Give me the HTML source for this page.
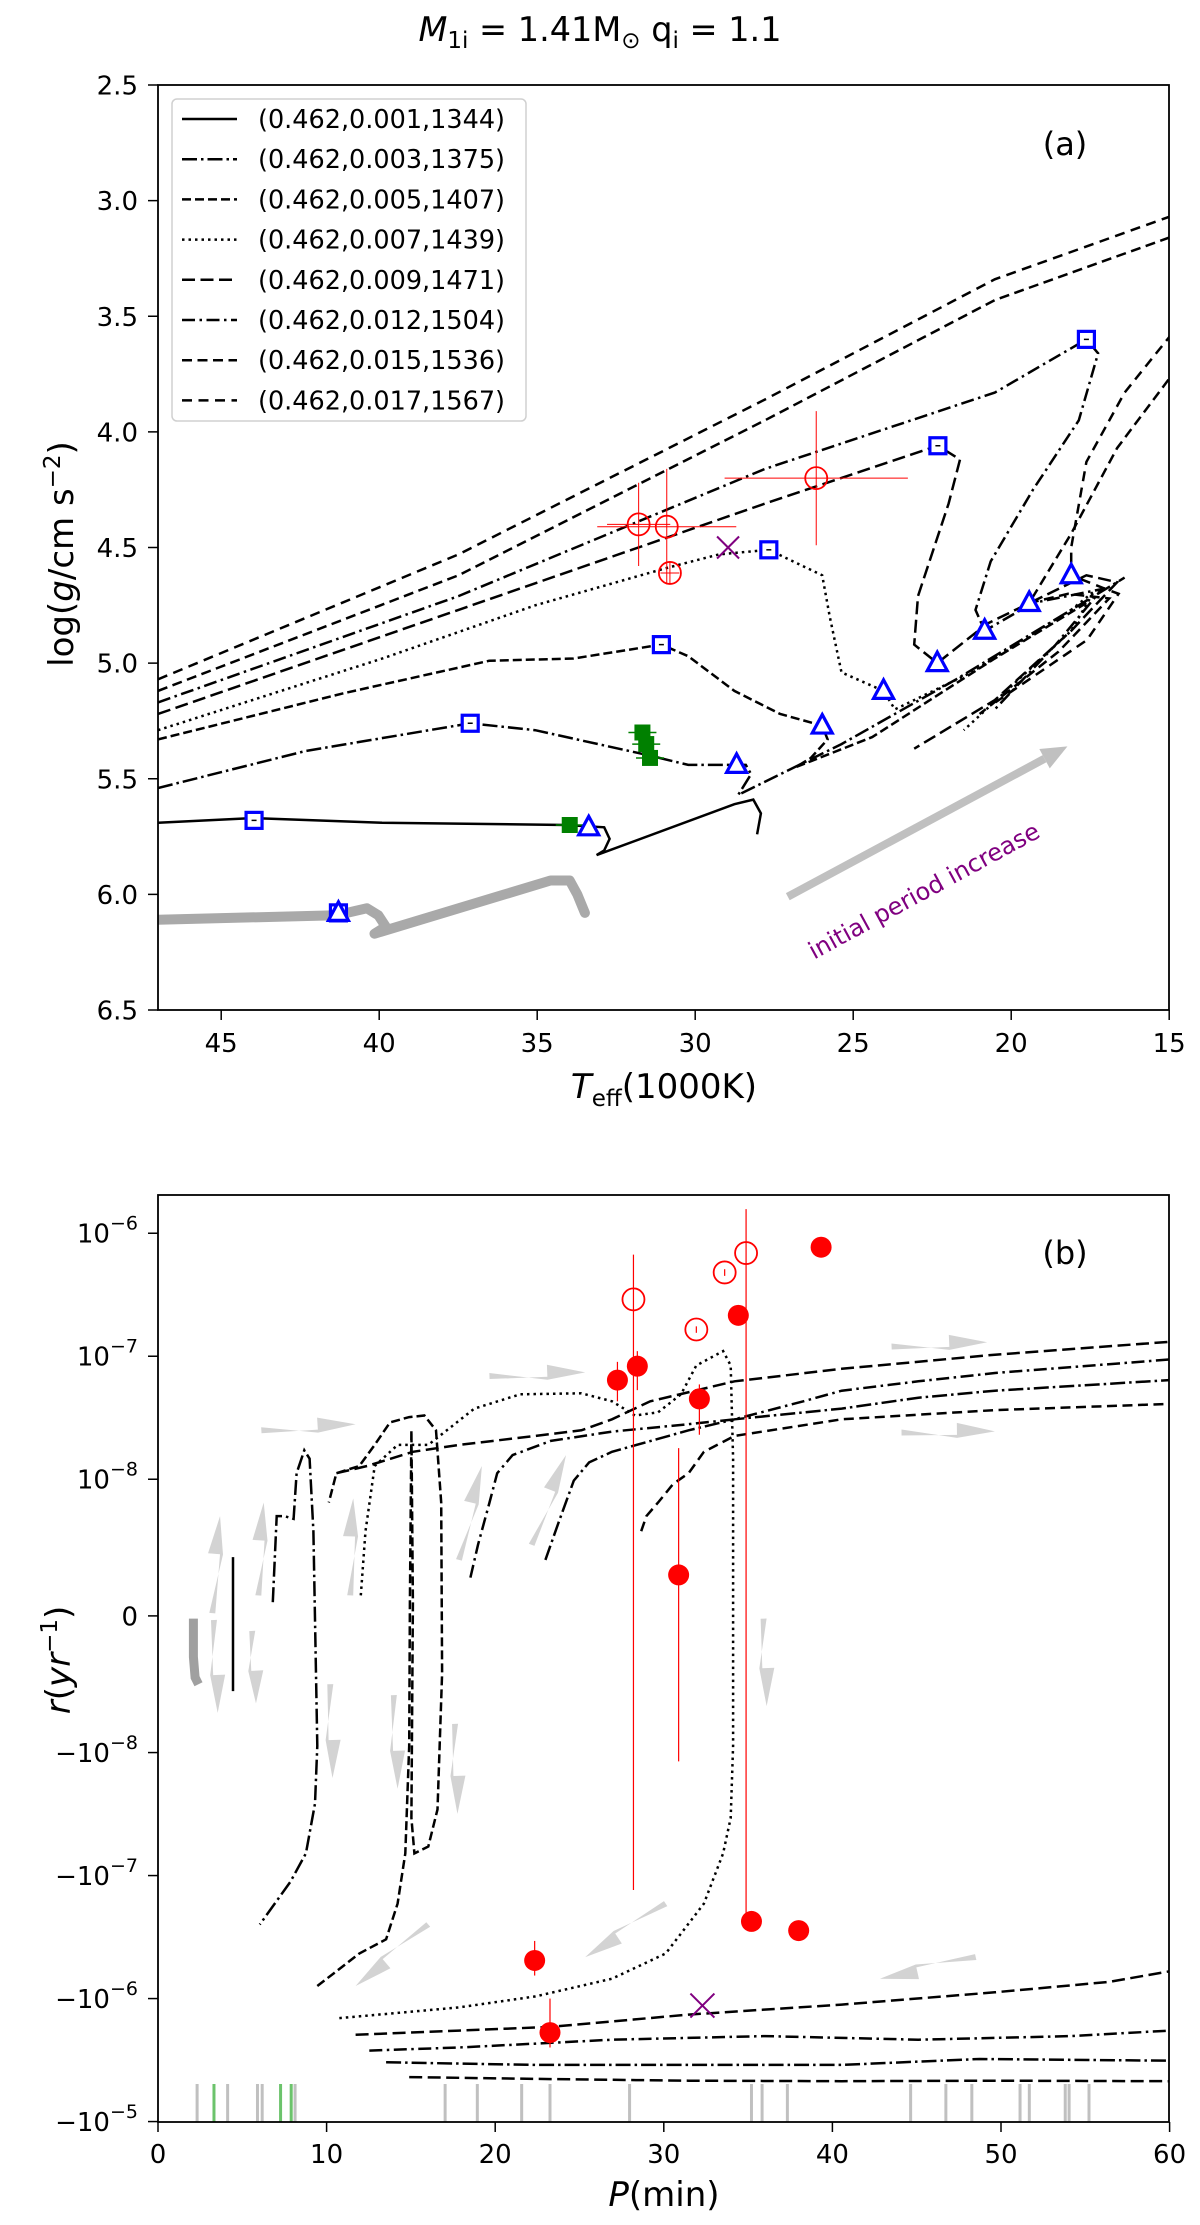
<!DOCTYPE html>
<html><head><meta charset="utf-8"><style>
html,body{margin:0;padding:0;background:#fff}
svg{display:block;font-family:"DejaVu Sans","Liberation Sans",sans-serif}
</style></head><body>
<svg id="fig" width="1200" height="2225" viewBox="0 0 1200 2225" xmlns="http://www.w3.org/2000/svg">
<defs>
<clipPath id="clipA"><rect x="158" y="85" width="1011" height="925"/></clipPath>
<clipPath id="clipB"><rect x="158" y="1195" width="1011" height="927"/></clipPath>
</defs>
<text x="600" y="41" text-anchor="middle" font-size="33.5"><tspan font-style="italic">M</tspan><tspan font-size="23" dy="7">1i</tspan><tspan dy="-7"> = 1.41M</tspan><tspan font-size="23" dy="7">⊙</tspan><tspan dy="-7"> q</tspan><tspan font-size="23" dy="7">i</tspan><tspan dy="-7"> = 1.1</tspan></text>
<g id="panelA"></g>
<g id="panelB"></g>
</svg>
<script>
// ---------- Panel (a) data ----------
const tickA_x = [45, 40, 35, 30, 25, 20, 15];
const tickA_y = [2.5, 3.0, 3.5, 4.0, 4.5, 5.0, 5.5, 6.0, 6.5];
const legendLabels = ["(0.462,0.001,1344)","(0.462,0.003,1375)","(0.462,0.005,1407)","(0.462,0.007,1439)","(0.462,0.009,1471)","(0.462,0.012,1504)","(0.462,0.015,1536)","(0.462,0.017,1567)"];
const grayT = [47, 41.35, 40.39, 40.03, 39.79, 40.15, 34.58, 33.97, 33.73, 33.49];
const grayG = [6.11, 6.09, 6.06, 6.09, 6.14, 6.17, 5.94, 5.94, 6.00, 6.08];
const t001T = [47, 44.03, 39.91, 34.09, 32.88, 32.71, 32.88, 33.12, 28.76, 28.16, 27.92, 28.04];
const t001G = [5.69, 5.67, 5.69, 5.70, 5.71, 5.76, 5.81, 5.83, 5.61, 5.59, 5.65, 5.74];
const t003T = [47, 42.33, 37.12, 35.06, 31.43, 30.22, 28.40, 28.23, 28.64, 25.37, 21.74, 16.41];
const t003G = [5.54, 5.38, 5.26, 5.29, 5.40, 5.44, 5.44, 5.48, 5.57, 5.35, 5.07, 4.63];
const t005T = [47, 41.12, 36.52, 33.85, 31.07, 30.22, 28.76, 27.31, 25.98, 25.81, 26.34, 26.82, 24.40, 20.52, 17.62];
const t005G = [5.33, 5.13, 4.99, 4.98, 4.92, 4.97, 5.12, 5.22, 5.27, 5.33, 5.41, 5.45, 5.32, 4.98, 4.74];
const t007T = [47, 39.90, 35.06, 30.94, 29.25, 27.67, 25.98, 25.74, 25.37, 24.04, 23.68, 21.26, 18.10, 17.38, 18.10, 21.50];
const t007G = [5.29, 4.98, 4.75, 4.59, 4.53, 4.51, 4.62, 4.80, 5.04, 5.12, 5.20, 5.04, 4.77, 4.69, 4.86, 5.29];
const t009T = [47, 37.49, 27.79, 22.32, 21.62, 21.98, 22.95, 23.07, 22.34, 20.77, 17.62, 16.65, 18.10, 20.52, 23.07];
const t009G = [5.22, 4.77, 4.31, 4.06, 4.12, 4.31, 4.71, 4.92, 5.00, 4.83, 4.62, 4.65, 4.86, 5.16, 5.37];
const t012T = [47, 37.49, 27.79, 20.52, 17.62, 17.25, 17.86, 19.31, 20.65, 21.13, 20.84, 19.31, 17.13, 18.59, 20.52];
const t012G = [5.17, 4.71, 4.16, 3.83, 3.60, 3.66, 3.95, 4.25, 4.56, 4.77, 4.86, 4.74, 4.68, 4.92, 5.20];
const t015T = [47, 37.49, 27.79, 20.52, 15, 13.5, 14.5, 15, 16.65, 18.10, 19.43, 18.2, 16.9, 18.5, 21.0];
const t015G = [5.12, 4.62, 3.95, 3.43, 3.16, 2.9, 3.6, 3.77, 4.07, 4.44, 4.74, 4.70, 4.72, 4.95, 5.22];
const t017T = [47, 37.49, 27.79, 20.52, 15, 13.5, 14.5, 15, 16.41, 17.62, 18.10, 18.10, 17.0, 16.6, 17.6, 20.5];
const t017G = [5.07, 4.53, 3.86, 3.34, 3.07, 2.9, 3.4, 3.59, 3.83, 4.13, 4.50, 4.62, 4.68, 4.70, 4.90, 5.17];
const triT = [33.37, 28.69, 25.98, 24.04, 22.34, 20.84, 19.43, 18.10, 41.29];
const triG = [5.71, 5.44, 5.27, 5.12, 5.00, 4.86, 4.74, 4.62, 6.08];
const sqT = [43.96, 37.12, 31.07, 27.67, 22.32, 17.62, 41.29];
const sqG = [5.68, 5.26, 4.92, 4.51, 4.06, 3.60, 6.08];
const obsT = [31.79, 30.90, 30.80, 26.17];
const obsG = [4.40, 4.41, 4.61, 4.20];
const obsTerr = [1.0, 2.2, 0.3, 2.9];
const obsGerr = [0.18, 0.25, 0.05, 0.29];
const greenT = [33.97, 31.67, 31.55, 31.43];
const greenG = [5.70, 5.30, 5.35, 5.41];
const xMarkA = [28.96, 4.50];
const arrowA = [27.07, 6.01, 18.22, 5.36];

// ---------- Panel (b) data ----------
const tickB_x = [0, 10, 20, 30, 40, 50, 60];
const tickB_y = [1e-6, 1e-7, 1e-8, 0, -1e-8, -1e-7, -1e-6, -1e-5];
const tickB_lbl = ["10|−6","10|−7","10|−8","0|","−10|−8","−10|−7","−10|−6","−10|−5"];
const bGrayP = [2.1, 2.1, 2.2, 2.4];
const bGrayR = [-2e-10, -3e-9, -4.5e-9, -5e-9];
const bSolidP = [4.45, 4.45];
const bSolidR = [4.3e-9, -5.5e-9];
const b003P = [6.81, 7.04, 7.49, 8.04, 8.22, 8.68, 8.99, 9.22, 9.45, 9.31, 8.77, 7.86, 6.04];
const b003R = [1.0e-9, 7.3e-9, 7.3e-9, 7.1e-9, 1.12e-8, 1.72e-8, 1.47e-8, 6.2e-9, -9.5e-9, -2.6e-8, -6.6e-8, -1.12e-7, -2.5e-7];
const b005P = [9.45, 10.58, 11.94, 13.53, 14.21, 14.67, 14.90, 14.94, 15.03, 15.12, 15.03, 15.21, 16.03, 16.58, 16.85, 16.80, 16.49, 15.80, 14.90, 13.76, 12.85, 11.94, 10.58, 10.13];
const b005R = [-7.9e-7, -6.0e-7, -4.3e-7, -3.3e-7, -1.69e-7, -6.6e-8, -9.5e-9, 1.0e-9, 2.5e-8, 1.0e-9, -3.4e-8, -6.6e-8, -5.8e-8, -2.9e-8, -4.2e-9, 8.3e-9, 2.5e-8, 3.3e-8, 3.2e-8, 2.9e-8, 1.9e-8, 1.28e-8, 1.12e-8, 8.3e-9];
const b007P = [12.03, 12.31, 12.85, 14.21, 16.03, 18.76, 21.48, 25.11, 26.93, 28.29, 29.66, 31.02, 31.93, 33.52, 33.97, 34.11, 34.11, 33.97, 33.52, 32.38, 30.11, 26.93, 22.39, 17.85, 10.58];
const b007R = [1.5e-9, 6.2e-9, 1.28e-8, 1.9e-8, 1.9e-8, 3.75e-8, 4.9e-8, 5.0e-8, 4.3e-8, 3.3e-8, 3.5e-8, 4.9e-8, 8.4e-8, 1.1e-7, 8.4e-8, 1.47e-8, -9.5e-9, -3.4e-8, -6.6e-8, -1.69e-7, -4.3e-7, -6.9e-7, -9.6e-7, -1.18e-6, -1.45e-6];
const u009P = [10.58, 12.40, 15.12, 17.85, 22.39, 25.11, 26.93, 29.20, 34.20, 40.55, 49.64, 60];
const u009R = [1.12e-8, 1.28e-8, 1.67e-8, 1.9e-8, 2.25e-8, 2.5e-8, 3.07e-8, 4.3e-8, 6.25e-8, 7.9e-8, 1.03e-7, 1.31e-7];
const u012P = [18.53, 18.98, 19.66, 20.12, 21.03, 23.30, 26.93, 31.47, 34.20, 38.28, 40.55, 45.10, 49.64, 60];
const u012R = [2.8e-9, 5.2e-9, 8.3e-9, 1.12e-8, 1.57e-8, 2.05e-8, 2.44e-8, 2.8e-8, 3.07e-8, 4.3e-8, 5.25e-8, 6.25e-8, 7.3e-8, 9.4e-8];
const u015P = [22.98, 23.75, 24.66, 25.57, 26.93, 31.47, 34.20, 40.55, 45.10, 49.64, 60];
const u015R = [4.1e-9, 6.8e-9, 9.9e-9, 1.37e-8, 1.67e-8, 2.5e-8, 3.07e-8, 3.75e-8, 4.6e-8, 5.25e-8, 6.4e-8];
const u017P = [28.66, 28.97, 29.66, 30.56, 31.47, 32.38, 34.20, 40.55, 49.64, 60];
const u017R = [6.2e-9, 7.3e-9, 8.3e-9, 9.66e-9, 1.12e-8, 1.67e-8, 2.25e-8, 3.07e-8, 3.65e-8, 4.1e-8];
const d009P = [11.72, 17.85, 23.30, 31.47, 40.55, 49.64, 56.45, 60];
const d009R = [-1.97e-6, -1.82e-6, -1.70e-6, -1.35e-6, -1.12e-6, -8.9e-7, -7.3e-7, -6.0e-7];
const d012P = [12.53, 17.85, 26.93, 36.01, 45.10, 54.18, 60];
const d012R = [-2.65e-6, -2.5e-6, -2.16e-6, -2.02e-6, -2.16e-6, -2.02e-6, -1.82e-6];
const d015P = [13.53, 22.39, 31.47, 40.55, 48.73, 60];
const d015R = [-3.3e-6, -3.46e-6, -3.46e-6, -3.46e-6, -3.1e-6, -3.2e-6];
const d017P = [14.90, 22.39, 31.47, 40.55, 49.64, 60];
const d017R = [-4.35e-6, -4.5e-6, -4.65e-6, -4.7e-6, -4.65e-6, -4.7e-6];
const filledP = [27.25, 28.43, 32.11, 34.42, 39.33, 30.88, 35.2, 38.0, 22.34, 23.25];
const filledR = [6.4e-8, 8.3e-8, 4.5e-8, 2.15e-7, 7.7e-7, 3.0e-9, -2.36e-7, -2.8e-7, -4.9e-7, -1.89e-6];
const filledLo = [4.3e-8, 5.3e-8, 2.3e-8, 2.15e-7, 7.7e-7, -1.18e-8, -2.36e-7, -2.8e-7, -6.5e-7, -2.5e-6];
const filledHi = [9.0e-8, 1.1e-7, 5.9e-8, 2.15e-7, 7.7e-7, 1.79e-8, -2.36e-7, -2.8e-7, -3.4e-7, -1.0e-6];
const openP = [28.2, 31.93, 33.61, 34.88];
const openR = [2.9e-7, 1.65e-7, 4.8e-7, 6.9e-7];
const openLo = [-1.31e-7, 1.55e-7, 4.5e-7, -2.2e-7];
const openHi = [6.7e-7, 1.75e-7, 5.1e-7, 1.57e-6];
const xMarkB = [32.29, -1.14e-6];
const rugGray = [2.32, 4.13, 5.90, 6.18, 8.13, 17.03, 18.94, 21.57, 23.25, 27.97, 35.2, 35.83, 37.33, 44.64, 46.73, 48.27, 51.13, 51.68, 53.81, 54.04, 55.22];
const rugGreen = [3.32, 7.27, 7.9];
const arrowsB = [
 [6.13,2.5e-8,11.72,2.8e-8],[19.66,6.9e-8,25.34,7.4e-8],[43.51,1.2e-7,49.18,1.3e-7],[44.1,2.4e-8,49.64,2.45e-8],
 [3.22,2e-10,3.68,7.3e-9],[5.95,1.5e-9,6.27,8.3e-9],[11.4,1.5e-9,11.58,8.6e-9],[17.85,4.1e-9,19.21,1.28e-8],[22.16,5.2e-9,24.2,1.57e-8],
 [3.32,-3e-10,3.54,-7.1e-9],[5.59,-1.1e-9,5.81,-6.4e-9],[10.22,-5.0e-9,10.35,-1.61e-8],[13.99,-5.8e-9,14.21,-1.97e-8],[17.62,-7.9e-9,17.76,-3.15e-8],[35.92,-2e-10,36.1,-6.6e-9],
 [16.03,-2.5e-7,11.72,-7.9e-7],[30.11,-1.69e-7,25.34,-4.6e-7],[48.5,-4.6e-7,42.82,-6.9e-7]
];

// ---------- helpers ----------
const NS = "http://www.w3.org/2000/svg";
function mk(tag, attrs, parent){const e=document.createElementNS(NS,tag);for(const k in attrs)e.setAttribute(k,attrs[k]);parent.appendChild(e);return e;}
const xA = T => 158 + (47 - T) * 31.6;
const yA = g => 85 + (g - 2.5) * 231.25;
const xB = P => 158 + P * 16.86;
function symf(v){const a=Math.abs(v);const s=v<0?-1:1;if(a<=1e-8)return s*(a/1e-8)*(1/0.9);return s*(1/0.9+Math.log10(a/1e-8));}
const yB = r => 1615.9 - symf(r) * 123.0;
function pathD(xs, ys, fx, fy){return xs.map((v,i)=>(i?"L":"M")+fx(v).toFixed(1)+","+fy(ys[i]).toFixed(1)).join(" ");}
const styles = {
 s001:"", s003:"15,4,2.5,4", s005:"9,4", s007:"2.5,4", s009:"13,5.5", s012:"13,4.5,2.5,4.5", s015:"10,5.5", s017:"10,6.5"
};

// ---------- Panel A ----------
const A = document.getElementById("panelA");
const gA = mk("g",{"clip-path":"url(#clipA)"},A);
let e;
e = mk("path",{d:pathD(grayT,grayG,xA,yA),fill:"none",stroke:"#a9a9a9","stroke-width":10,"stroke-linecap":"round","stroke-linejoin":"round"},gA);


const tracksA = [[t001T,t001G,"s001"],[t003T,t003G,"s003"],[t005T,t005G,"s005"],[t007T,t007G,"s007"],[t009T,t009G,"s009"],[t012T,t012G,"s012"],[t015T,t015G,"s015"],[t017T,t017G,"s017"]];
tracksA.forEach(([t,g,s])=>{
 e = mk("path",{d:pathD(t,g,xA,yA),fill:"none",stroke:"#000","stroke-width":2.5,"stroke-dasharray":styles[s]||"none"},gA);
 
 
});
{
 const x1=xA(arrowA[0]),y1=yA(arrowA[1]),x2=xA(arrowA[2]),y2=yA(arrowA[3]);
 const ang=Math.atan2(y2-y1,x2-x1);const L=26,W=11;
 const bx=x2-L*Math.cos(ang),by=y2-L*Math.sin(ang);
 e=mk("line",{x1:x1,y1:y1,x2:bx,y2:by,stroke:"#c0c0c0","stroke-width":8},A);
 
 
 mk("polygon",{points:`${x2},${y2} ${bx+W*Math.sin(ang)},${by-W*Math.cos(ang)} ${bx-W*Math.sin(ang)},${by+W*Math.cos(ang)}`,fill:"#c0c0c0"},A);
}
e=mk("text",{x:924,y:899,"text-anchor":"middle",fill:"#800080","font-size":24,transform:"rotate(-28.5 924 891)"},A);
e.textContent="initial period increase";


greenT.forEach((t,i)=>{
 e=mk("rect",{x:xA(t)-8,y:yA(greenG[i])-8,width:16,height:16,fill:"#008000"},gA);
 
 
 mk("line",{x1:xA(t)-14,x2:xA(t)+14,y1:yA(greenG[i]),y2:yA(greenG[i]),stroke:"#008000","stroke-width":1.5},gA);
});
sqT.forEach((t,i)=>{
 const x=xA(t),y=yA(sqG[i]);
 e=mk("rect",{x:x-8,y:y-8,width:16,height:16,fill:"#fff",stroke:"#0000ff","stroke-width":3.2},gA);
 
 
 mk("line",{x1:x-2.5,x2:x+2.5,y1:y,y2:y,stroke:"#000","stroke-width":1.5},gA);
});
triT.forEach((t,i)=>{
 const x=xA(t),y=yA(triG[i]);
 e=mk("polygon",{points:`${x},${y-11} ${x+10},${y+7.5} ${x-10},${y+7.5}`,fill:"#fff",stroke:"#0000ff","stroke-width":3.2},gA);
 
 
});
obsT.forEach((t,i)=>{
 const x=xA(t),y=yA(obsG[i]);
 mk("line",{x1:xA(t+obsTerr[i]),x2:xA(t-obsTerr[i]),y1:y,y2:y,stroke:"#ff0000","stroke-width":1},gA);
 mk("line",{x1:x,x2:x,y1:yA(obsG[i]-obsGerr[i]),y2:yA(obsG[i]+obsGerr[i]),stroke:"#ff0000","stroke-width":1},gA);
 e=mk("circle",{cx:x,cy:y,r:11,fill:"none",stroke:"#ff0000","stroke-width":1.8},gA);
 
 
});
{
 const x=xA(xMarkA[0]),y=yA(xMarkA[1]);
 e=mk("path",{d:`M${x-11},${y-11}L${x+11},${y+11}M${x-11},${y+11}L${x+11},${y-11}`,stroke:"#800080","stroke-width":2},gA);
 
 
}
e=mk("rect",{x:158,y:85,width:1011,height:925,fill:"none",stroke:"#000","stroke-width":1.8},A);


tickA_x.forEach(t=>{
 const x=xA(t);mk("line",{x1:x,x2:x,y1:1010,y2:1020,stroke:"#000","stroke-width":1.5},A);
 e=mk("text",{x:x,y:1052,"text-anchor":"middle","font-size":26},A);e.textContent=t;
 
 
});
tickA_y.forEach(g=>{
 const y=yA(g);mk("line",{x1:148,x2:158,y1:y,y2:y,stroke:"#000","stroke-width":1.5},A);
 e=mk("text",{x:138,y:y+9.5,"text-anchor":"end","font-size":26},A);e.textContent=g.toFixed(1);
 
 
});
e=mk("text",{x:1065,y:155,"text-anchor":"middle","font-size":32},A);e.textContent="(a)";


e=mk("text",{x:664,y:1098,"text-anchor":"middle","font-size":34},A);
e.innerHTML='<tspan font-style="italic">T</tspan><tspan font-size="23" dy="8">eff</tspan><tspan dy="-8">(1000K)</tspan>';


e=mk("text",{x:0,y:0,"text-anchor":"middle","font-size":34,transform:"translate(73 554) rotate(-90)"},A);
e.innerHTML='log(<tspan font-style="italic">g</tspan>/cm s<tspan font-size="23" dy="-13">−2</tspan><tspan dy="13">)</tspan>';


const LG = mk("g",{},A);
e=mk("rect",{x:172,y:99,width:354,height:322,rx:5,fill:"#fff","fill-opacity":0.8,stroke:"#d0d0d0","stroke-width":1.5},LG);


const legStyles=["s001","s003","s005","s007","s009","s012","s015","s017"];
legendLabels.forEach((lab,i)=>{
 const y=119+i*40.2;
 mk("line",{x1:182,x2:237,y1:y,y2:y,stroke:"#000","stroke-width":2.5,"stroke-dasharray":styles[legStyles[i]]||"none"},LG);
 e=mk("text",{x:258,y:y+9,"font-size":25.5},LG);e.textContent=lab;
 
 
});

// ---------- Panel B ----------
const B = document.getElementById("panelB");
const gB = mk("g",{"clip-path":"url(#clipB)"},B);
arrowsB.forEach(a=>{
 const x1=xB(a[0]),y1=yB(a[1]),x2=xB(a[2]),y2=yB(a[3]);
 const ang=Math.atan2(y2-y1,x2-x1);const L=Math.min(38,Math.hypot(x2-x1,y2-y1)*0.45),W=9;
 const bx=x2-L*Math.cos(ang),by=y2-L*Math.sin(ang);
 const nx=Math.sin(ang),ny=-Math.cos(ang);
 e=mk("polygon",{points:`${x1-3*nx},${y1-3*ny} ${bx-3*nx},${by-3*ny} ${bx+W*nx},${by+W*ny} ${x2},${y2} ${bx-6*nx},${by-6*ny} ${x1+3*nx},${y1+3*ny}`,fill:"#d3d3d3"},gB);
 
 
});
e=mk("path",{d:pathD(bGrayP,bGrayR,xB,yB),fill:"none",stroke:"#a0a0a0","stroke-width":9},gB);


e=mk("path",{d:pathD(bSolidP,bSolidR,xB,yB),fill:"none",stroke:"#000","stroke-width":2.5},gB);


const tracksB=[[b003P,b003R,"s003"],[b005P,b005R,"s005"],[b007P,b007R,"s007"],[u009P,u009R,"s009"],[u012P,u012R,"s012"],[u015P,u015R,"s003"],[u017P,u017R,"s015"],[d009P,d009R,"s009"],[d012P,d012R,"s012"],[d015P,d015R,"s003"],[d017P,d017R,"s009"]];
tracksB.forEach(([p,r,s],i)=>{
 e=mk("path",{d:pathD(p,r,xB,yB),fill:"none",stroke:"#000","stroke-width":2.5,"stroke-dasharray":styles[s]||"none"},gB);
 
 
});
rugGray.forEach(p=>{
 e=mk("line",{x1:xB(p),x2:xB(p),y1:2084,y2:2122,stroke:"#c0c0c0","stroke-width":3},B);
 
 
});
rugGreen.forEach(p=>{
 e=mk("line",{x1:xB(p),x2:xB(p),y1:2084,y2:2122,stroke:"#6cc36c","stroke-width":3},B);
 
 
});
openP.forEach((p,i)=>{
 mk("line",{x1:xB(p),x2:xB(p),y1:yB(openLo[i]),y2:yB(openHi[i]),stroke:"#ff0000","stroke-width":1.2},gB);
 e=mk("circle",{cx:xB(p),cy:yB(openR[i]),r:11,fill:"none",stroke:"#ff0000","stroke-width":1.8},gB);
 
 
});
filledP.forEach((p,i)=>{
 mk("line",{x1:xB(p),x2:xB(p),y1:yB(filledLo[i]),y2:yB(filledHi[i]),stroke:"#ff0000","stroke-width":1.2},gB);
 e=mk("circle",{cx:xB(p),cy:yB(filledR[i]),r:10.5,fill:"#ff0000"},gB);
 
 
});
{
 const x=xB(xMarkB[0]),y=yB(xMarkB[1]);
 e=mk("path",{d:`M${x-12},${y-12}L${x+12},${y+12}M${x-12},${y+12}L${x+12},${y-12}`,stroke:"#800080","stroke-width":2},gB);
 
 
}
e=mk("rect",{x:158,y:1195,width:1011,height:927,fill:"none",stroke:"#000","stroke-width":1.8},B);


tickB_x.forEach(p=>{
 const x=xB(p);mk("line",{x1:x,x2:x,y1:2122,y2:2132,stroke:"#000","stroke-width":1.5},B);
 e=mk("text",{x:x,y:2163,"text-anchor":"middle","font-size":26},B);e.textContent=p;
 
 
});
tickB_y.forEach((r,i)=>{
 const y=yB(r);mk("line",{x1:148,x2:158,y1:y,y2:y,stroke:"#000","stroke-width":1.5},B);
 const [base,ex]=tickB_lbl[i].split("|");
 e=mk("text",{x:138,y:y+9.5,"text-anchor":"end","font-size":26},B);
 e.innerHTML=ex?`${base}<tspan font-size="19" dy="-13">${ex}</tspan>`:base;
 
 
});
e=mk("text",{x:1065,y:1264,"text-anchor":"middle","font-size":32},B);e.textContent="(b)";


e=mk("text",{x:664,y:2206,"text-anchor":"middle","font-size":34},B);
e.innerHTML='<tspan font-style="italic">P</tspan>(min)';


e=mk("text",{x:0,y:0,"text-anchor":"middle","font-size":34,transform:"translate(70 1660) rotate(-90)"},B);
e.innerHTML='<tspan font-style="italic">r</tspan>(<tspan font-style="italic">yr</tspan><tspan font-size="23" dy="-13">−1</tspan><tspan dy="13">)</tspan>';


</script>
</body></html>
